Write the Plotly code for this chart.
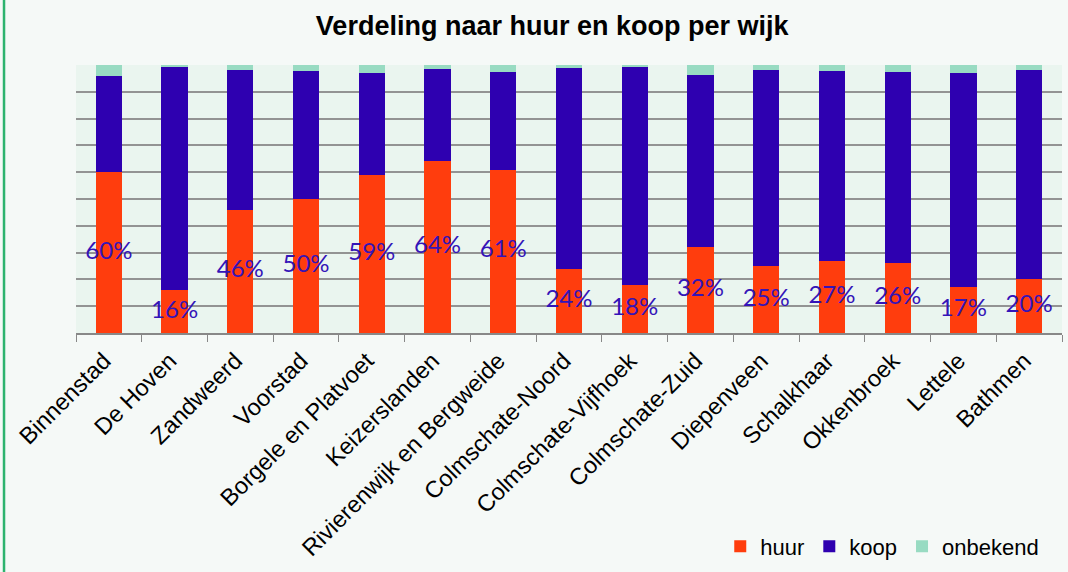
import plotly.graph_objects as go

wijken = ["Binnenstad", "De Hoven", "Zandweerd", "Voorstad", "Borgele en Platvoet",
          "Keizerslanden", "Rivierenwijk en Bergweide", "Colmschate-Noord",
          "Colmschate-Vijfhoek", "Colmschate-Zuid", "Diepenveen", "Schalkhaar",
          "Okkenbroek", "Lettele", "Bathmen"]
huur = [60, 16, 46, 50, 59, 64, 61, 24, 18, 32, 25, 27, 26, 17, 20]
koop = [36.0, 83.1, 52.1, 47.8, 38.1, 34.4, 36.4, 75.0, 81.2, 64.3, 73.1, 70.9, 71.4, 80.2, 78.1]
onbekend = [4.0, 0.9, 1.9, 2.2, 2.9, 1.6, 2.6, 1.0, 0.8, 3.7, 1.9, 2.1, 2.6, 2.8, 1.9]
huur_labels = [f"{v}%" for v in huur]
label_pos = [v / 2 for v in huur]

C_HUUR = "#FF3D0D"
C_KOOP = "#2E00B0"
C_ONB = "#98DBC2"

fig = go.Figure()
fig.add_trace(go.Bar(x=wijken, y=huur, name="huur", marker=dict(color=C_HUUR, line=dict(width=0))))
fig.add_trace(go.Bar(x=wijken, y=koop, name="koop", marker=dict(color=C_KOOP, line=dict(width=0))))
fig.add_trace(go.Bar(x=wijken, y=onbekend, name="onbekend", marker=dict(color=C_ONB, line=dict(width=0))))
fig.add_trace(go.Scatter(x=wijken, y=label_pos, text=huur_labels, mode="text",
                         textfont=dict(family="Lato", size=24, color="#3414B8"),
                         showlegend=False, hoverinfo="skip"))

fig.update_layout(
    width=1068, height=572,
    barmode="stack", bargap=0.6,
    paper_bgcolor="#F5F9F7", plot_bgcolor="#EAF5EF",
    margin=dict(l=76, r=6, t=65, b=238),
    title=dict(text="<b>Verdeling naar huur en koop per wijk</b>",
               font=dict(family="Liberation Sans", size=27, color="#000000"),
               x=0.517, xref="container", xanchor="center",
               y=0.956, yref="container", yanchor="middle"),
    font=dict(family="Liberation Sans", color="#000000"),
    legend=dict(orientation="h", x=0.982, xanchor="right", y=-0.79, yanchor="middle",
                font=dict(family="Liberation Sans", size=22, color="#000000"),
                bgcolor="rgba(0,0,0,0)", traceorder="normal", itemwidth=30),
    showlegend=True,
)
fig.update_xaxes(range=[-0.5, len(wijken) - 0.5], tickangle=-45,
                 tickfont=dict(family="Liberation Sans", size=23.5, color="#000000"),
                 ticklabelshift=-5, ticklabelstandoff=3,
                 ticks="outside", tickson="boundaries", ticklen=7, tickcolor="#888888",
                 showline=True, linecolor="#888888", linewidth=1.5, showgrid=False)
fig.update_yaxes(range=[0, 100], dtick=10, showticklabels=False, showgrid=True,
                 gridcolor="#939393", gridwidth=1.5, zeroline=False, showline=False)
fig.add_shape(type="line", xref="paper", yref="paper", x0=-0.073, x1=-0.073, y0=-0.9, y1=1.25,
              line=dict(color="#2DB36E", width=2.5))

fig.write_html("out.html", config={"displayModeBar": False},
               post_script="document.body.style.margin='0';document.body.style.background='#F5F9F7';")
